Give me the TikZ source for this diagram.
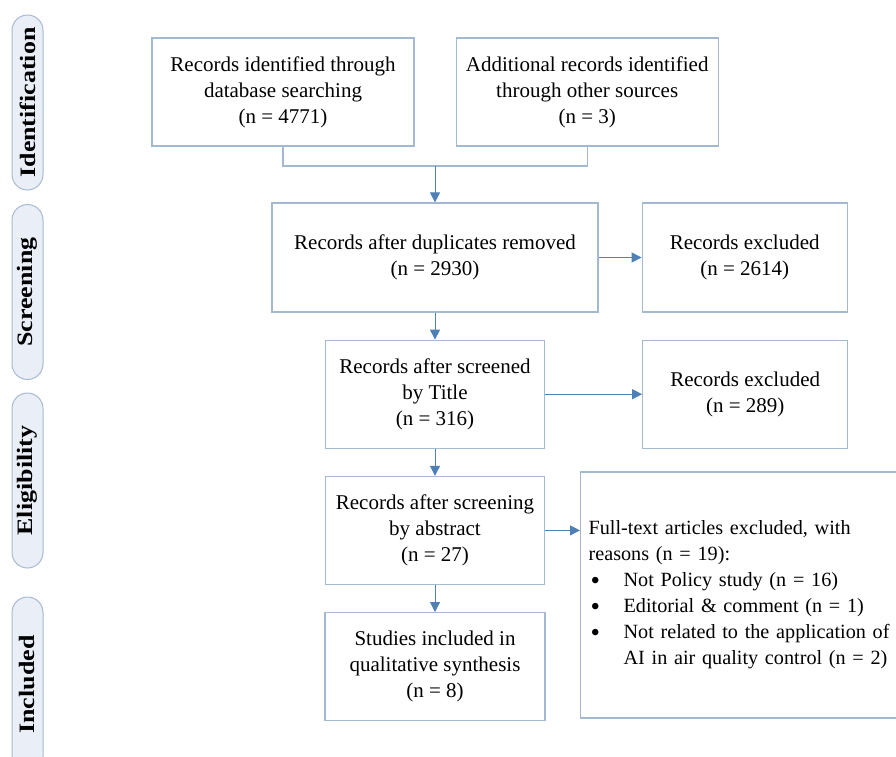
\documentclass[tikz,border=0pt]{standalone}
\usepackage{fontspec}
\setmainfont{Liberation Serif}
\usepackage{graphicx}
\usetikzlibrary{positioning}
\usetikzlibrary{arrows.meta}

\definecolor{boxline}{HTML}{A3B9D1}
\definecolor{arrowblue}{HTML}{4E7FB5}
\definecolor{phasefill}{HTML}{E9EEF7}
\definecolor{phaseline}{HTML}{A9BAD0}

\newcommand{\reasonbullet}{\hspace*{2pt}\makebox[33pt][l]{\raisebox{-2.3pt}{\fontsize{27}{26}\selectfont\textbullet}}}

\begin{document}
\begin{tikzpicture}[x=1pt, y=-1pt, node distance=27pt]
  \tikzstyle{box}=[rectangle, draw=boxline, line width=1.2pt, minimum width=219pt, minimum height=108pt, align=center, inner sep=0pt, font=\fontsize{21}{26}\selectfont]
  \tikzstyle{phase}=[rectangle, rounded corners=15.5pt, draw=phaseline, fill=phasefill, line width=1pt, minimum width=175pt, minimum height=31pt, rotate=90, inner sep=0pt, font=\fontsize{22}{26}\selectfont\bfseries]
  \tikzstyle{arrow}=[draw=arrowblue, line width=1pt, -{Triangle[length=10pt,width=10pt]}]
  \tikzstyle{bracket}=[draw=boxline, line width=1.2pt]
  \useasboundingbox (0,0) rectangle (896,756);
  \clip (0,0) rectangle (896,756);
  % phases
  \node [phase] at (27.5,102.5) (ident) {\scalebox{1.18}[1]{Identification}};
  \node [phase] at (27.5,292) (screen) {\scalebox{1.18}[1]{Screening}};
  \node [phase] at (27.5,480.5) (elig) {\scalebox{1.18}[1]{Eligibility}};
  \node [phase] at (27.5,684.5) (incl) {\scalebox{1.18}[1]{Included}};
  % flow
  \node [box, minimum width=262pt] at (283,92) (db) {Records identified through\\database searching\\(n = 4771)};
  \node [box, minimum width=262pt] [right=41pt of db] (other) {Additional records identified\\through other sources\\(n = 3)};
  \coordinate (merge) at (435,166);
  \node [box, minimum width=326pt, minimum height=109pt] at (435,257.5) (dup) {Records after duplicates removed\\(n = 2930)};
  \node [box, minimum width=205pt, minimum height=109pt] [right=43pt of dup] (excl1) {Records excluded\\(n = 2614)};
  \node [box] [below=of dup] (title) {Records after screened\\by Title\\(n = 316)};
  \node [box, minimum width=205pt] [right=97pt of title] (excl2) {Records excluded\\(n = 289)};
  \node [box] [below=of title] (abstr) {Records after screening\\by abstract\\(n = 27)};
  \node [box, minimum height=246pt, text width=340pt, inner xsep=8pt, align=left, anchor=west, font=\fontsize{20.2}{26}\selectfont] at (580,595) (fulltext) {Full-text articles excluded, with\\reasons (n = 19):\\
    \reasonbullet Not Policy study (n = 16)\\
    \reasonbullet Editorial \& comment (n = 1)\\
    \reasonbullet Not related to the application of\\
    \hspace*{35pt}AI in air quality control (n = 2)};
  \node [box, minimum width=220pt] [below=of abstr] (incl8) {Studies included in\\qualitative synthesis\\(n = 8)};
  \draw[bracket] (db.south) |- (merge) -| (other.south);
  \draw[arrow] (merge) -- (dup);
  \draw[arrow] (dup) -- (excl1);
  \draw[arrow] (dup) -- (title);
  \draw[arrow] (title) -- (excl2);
  \draw[arrow] (title) -- (abstr);
  \draw[arrow] (abstr.east) -- (abstr.east -| fulltext.west);
  \draw[arrow] (abstr) -- (incl8);
\end{tikzpicture}
\end{document}
